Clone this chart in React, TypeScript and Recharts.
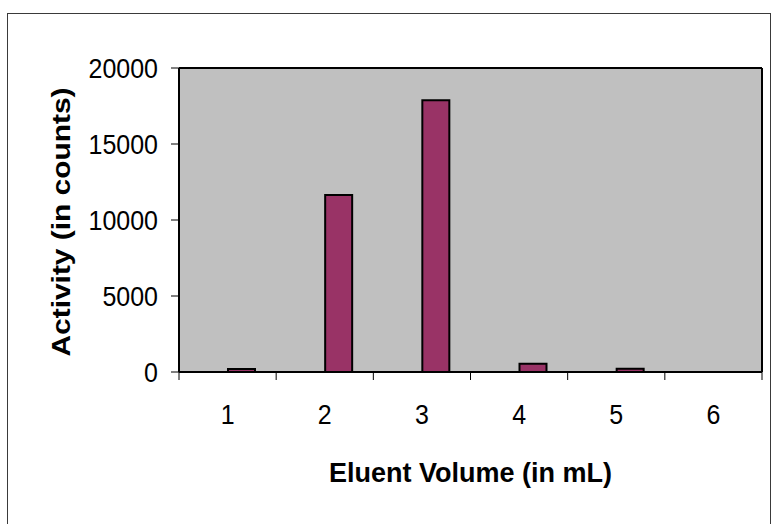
import React from "react";
import { BarChart, Bar, XAxis, YAxis, CartesianGrid } from "recharts";

// Eluent volume fractions (mL) and measured activity per fraction
const volumes = ["1", "2", "3", "4", "5", "6"];
const activity = [200, 11650, 17880, 550, 220, 0];
// empty leading series of the clustered layout (keeps bars right of centre)
const blankSeries = [null, null, null, null, null, null];
const yTicks = [0, 5000, 10000, 15000, 20000];

const data = volumes.map((v, i) => ({
  volume: v,
  activity: activity[i],
  blank: blankSeries[i],
}));

const FONT = "'Liberation Sans', Arial, sans-serif";
const STRETCH = 1.12;
const TICK_LEN = 8;

const YTick = (props: any) => {
  const { x, y, payload } = props;
  return (
    <g transform={`translate(${x},${y}) scale(1,${STRETCH})`}>
      <text x={0} y={0} dy="0.36em" textAnchor="end" fontFamily={FONT} fontSize={25} fill="#000">
        {payload.value}
      </text>
    </g>
  );
};

// category label plus tick marks on the category boundaries
const XTick = (props: any) => {
  const { x, y, payload, width, visibleTicksCount, index } = props;
  const half =
    payload && typeof payload.offset === "number" && payload.offset > 0
      ? payload.offset
      : width / (visibleTicksCount || volumes.length) / 2;
  const isLast = index === (visibleTicksCount || volumes.length) - 1;
  return (
    <g>
      <line x1={x - half} y1={y} x2={x - half} y2={y + TICK_LEN} stroke="#000" strokeWidth={1} />
      {isLast && (
        <line x1={x + half} y1={y} x2={x + half} y2={y + TICK_LEN} stroke="#000" strokeWidth={1} />
      )}
      <g transform={`translate(${x},${y + 52}) scale(1,${STRETCH})`}>
        <text x={0} y={0} textAnchor="middle" fontFamily={FONT} fontSize={25} fill="#000">
          {payload.value}
        </text>
      </g>
    </g>
  );
};

const NoTick = () => <g />;

const XTitle = (props: any) => {
  const vb = props.viewBox || { x: 0, y: 0, width: 0, height: 0 };
  const cx = vb.x + vb.width / 2;
  return (
    <g transform={`translate(${cx},${vb.y + 110}) scale(1,1.05)`}>
      <text x={0} y={0} textAnchor="middle" fontFamily={FONT} fontWeight="bold" fontSize={27} fill="#000">
        Eluent Volume (in mL)
      </text>
    </g>
  );
};

const YTitle = (props: any) => {
  const vb = props.viewBox || { x: 0, y: 0, width: 0, height: 0 };
  const cy = vb.y + vb.height / 2 + 2;
  return (
    <g transform={`translate(61,${cy}) scale(1,1.15) rotate(-90)`}>
      <text x={0} y={0} dy="0.36em" textAnchor="middle" fontFamily={FONT} fontWeight="bold" fontSize={26} fill="#000">
        Activity (in counts)
      </text>
    </g>
  );
};

const frameLine = { stroke: "#000", strokeWidth: 2 };

export default function App() {
  return (
    <div
      style={{
        position: "fixed",
        left: 0,
        top: 0,
        width: 771,
        height: 524,
        overflow: "hidden",
        background: "#fff",
      }}
    >
      <div
        style={{
          position: "absolute",
          left: 7,
          top: 13,
          width: 762,
          height: 540,
          border: "1px solid #3a3a3a",
        }}
      />
      <div style={{ position: "absolute", left: 0, top: 0 }}>
        <BarChart
          width={771}
          height={524}
          data={data}
          margin={{ top: 67, right: 8, bottom: 0, left: 0 }}
          barGap={0}
        >
          <CartesianGrid xAxisId="cat" fill="#C0C0C0" horizontal={false} vertical={false} />
          <XAxis
            xAxisId="cat"
            dataKey="volume"
            interval={0}
            height={152}
            tickSize={0}
            tickMargin={0}
            tickLine={false}
            tick={XTick}
            axisLine={frameLine}
            label={{ content: XTitle }}
          />
          <XAxis
            xAxisId="top"
            orientation="top"
            dataKey="volume"
            height={1}
            tick={NoTick}
            tickLine={false}
            axisLine={frameLine}
          />
          <YAxis
            width={179}
            domain={[0, 20000]}
            ticks={yTicks}
            tickSize={8}
            tickMargin={13}
            tick={YTick}
            tickLine={{ stroke: "#000", strokeWidth: 1 }}
            axisLine={frameLine}
            label={{ content: YTitle }}
          />
          <YAxis
            yAxisId="right"
            orientation="right"
            width={1}
            domain={[0, 20000]}
            ticks={yTicks}
            tick={NoTick}
            tickLine={false}
            axisLine={frameLine}
          />
          <Bar xAxisId="cat" dataKey="blank" barSize={27} fill="#993366" isAnimationActive={false} />
          <Bar
            xAxisId="cat"
            dataKey="activity"
            barSize={27}
            fill="#993366"
            stroke="#000"
            strokeWidth={2}
            isAnimationActive={false}
          />
        </BarChart>
      </div>
    </div>
  );
}
